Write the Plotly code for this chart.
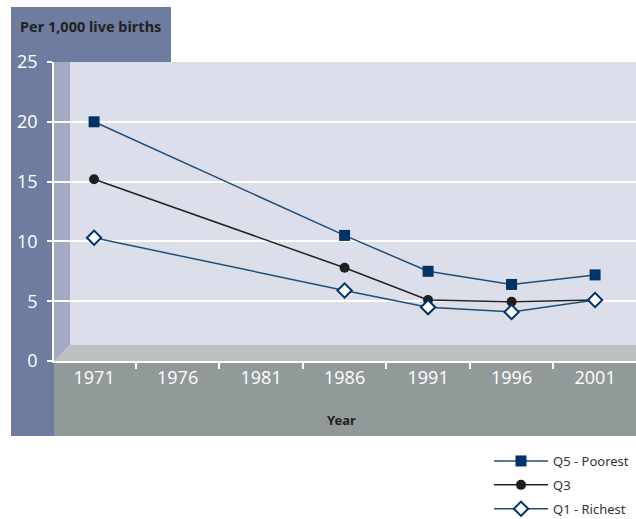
import plotly.graph_objects as go

years = ["1971", "1976", "1981", "1986", "1991", "1996", "2001"]
data_years = ["1971", "1986", "1991", "1996", "2001"]
q5_poorest = [20.0, 10.5, 7.5, 6.4, 7.2]
q3 = [15.2, 7.8, 5.1, 4.95, 5.1]
q1_richest = [10.3, 5.9, 4.5, 4.1, 5.1]
y_ticks = [0, 5, 10, 15, 20, 25]

W, H = 636, 519
L, R, T, B = 54, 636, 62, 361  # plot area pixels


def px(x):
    return (x - L) / (R - L)


def py(y):
    return (B - y) / (B - T)


NAVY = "#003366"
NAVY_LINE = "#1F4E7A"
DARK = "#222222"

fig = go.Figure()
fig.add_trace(go.Scatter(
    x=data_years, y=q5_poorest, name="Q5 - Poorest", mode="lines+markers",
    line=dict(color=NAVY_LINE, width=1.5),
    marker=dict(symbol="square", size=11, color=NAVY),
    legendgroup="a"))
fig.add_trace(go.Scatter(
    x=data_years, y=q3, name="Q3", mode="lines+markers",
    line=dict(color=DARK, width=1.5),
    marker=dict(symbol="circle", size=10, color="#1E1E1E"),
    legendgroup="b"))
fig.add_trace(go.Scatter(
    x=data_years, y=q1_richest, name="Q1 - Richest", mode="lines+markers",
    line=dict(color=NAVY_LINE, width=1.5),
    marker=dict(symbol="diamond", size=11, color="white",
                line=dict(color=NAVY, width=2)),
    legendgroup="c"))

shapes = []
PANEL = "#6E7CA0"
# top-left panel
shapes.append(dict(type="rect", xref="paper", yref="paper", layer="below",
                   x0=px(11), x1=px(171), y0=py(62), y1=py(7),
                   fillcolor=PANEL, line=dict(width=0)))
# left strip
shapes.append(dict(type="rect", xref="paper", yref="paper", layer="below",
                   x0=px(11), x1=px(54), y0=py(436), y1=py(62),
                   fillcolor=PANEL, line=dict(width=0)))
# bottom gray band
shapes.append(dict(type="rect", xref="paper", yref="paper", layer="below",
                   x0=px(54), x1=px(636), y0=py(436), y1=py(361),
                   fillcolor="#929999", line=dict(width=0)))
# left wall
shapes.append(dict(type="path", xref="paper", yref="paper", layer="below",
                   path="M %f,%f L %f,%f L %f,%f L %f,%f Z" % (
                       px(54), py(62), px(70), py(62), px(70), py(345), px(54), py(361)),
                   fillcolor="#A3A8C4", line=dict(width=0)))
# floor
shapes.append(dict(type="path", xref="paper", yref="paper", layer="below",
                   path="M %f,%f L %f,%f L %f,%f L %f,%f Z" % (
                       px(54), py(361), px(70), py(345), px(636), py(345), px(636), py(361)),
                   fillcolor="#BCC0C1", line=dict(width=0)))

annotations = [
    dict(text="<b>Per 1,000 live births</b>", xref="paper", yref="paper",
         x=px(18), y=py(26.5), xanchor="left", yanchor="middle", showarrow=False,
         font=dict(family="Noto Sans", size=14.5, color="#222222")),
    dict(text="<b>Year</b>", xref="paper", yref="paper",
         x=px(341), y=py(420), xanchor="center", yanchor="middle", showarrow=False,
         font=dict(family="Noto Sans", size=13, color="#222222")),
]

fig.update_layout(
    width=W, height=H,
    margin=dict(l=L, r=W - R, t=T, b=H - B, pad=0, autoexpand=False),
    paper_bgcolor="white",
    plot_bgcolor="#DCDEE9",
    font=dict(family="Open Sans", color="#333333"),
    shapes=shapes,
    annotations=annotations,
    showlegend=True,
    legend=dict(x=px(489), y=py(446), xanchor="left", yanchor="top",
                bgcolor="rgba(0,0,0,0)", tracegroupgap=4, itemwidth=54,
                font=dict(family="Noto Sans", size=13, color="#333333")),
    xaxis=dict(type="category", categoryorder="array", categoryarray=years,
               range=[-0.48, 6.49], tickson="boundaries", ticks="outside",
               ticklen=6, tickcolor="white", tickwidth=1.5,
               showgrid=False, showline=True, linecolor="white", linewidth=1.5,
               tickfont=dict(family="Open Sans", size=18, color="white"),
               fixedrange=True),
    yaxis=dict(range=[0, 25], tickvals=y_ticks, ticks="outside", ticklen=5,
               tickcolor="white", tickwidth=1.5, showgrid=True,
               gridcolor="white", gridwidth=2, zeroline=False,
               showline=True, linecolor="white", linewidth=1.5,
               ticklabelstandoff=6,
               tickfont=dict(family="Open Sans", size=18, color="white"),
               fixedrange=True),
)

fig.write_html(
    "out.html",
    config={"displayModeBar": False},
    post_script="document.body.style.margin='0';document.body.style.overflow='hidden';",
)
